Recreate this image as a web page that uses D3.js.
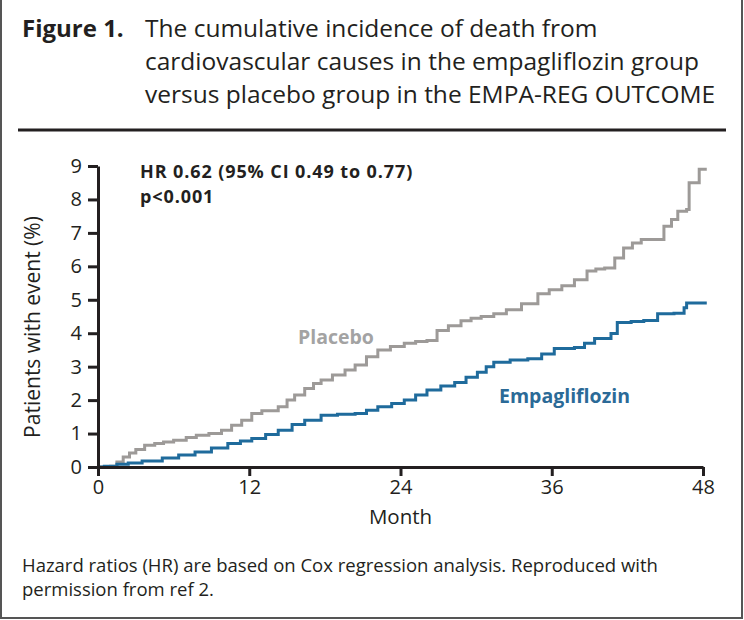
<!DOCTYPE html>
<html>
<head>
<meta charset="utf-8">
<script src="https://cdn.jsdelivr.net/npm/d3@7"></script>
<style>
  body { margin: 0; background: #fff; }
  svg text { font-family: "Open Sans", "DejaVu Sans", sans-serif; fill: #231f20; }
</style>
</head>
<body>
<div id="container"></div>
<script>
// cumulative incidence (%)
const placeboMonths = [0, 1, 1.5, 2, 2.5, 3, 3.7, 4.5, 5.2, 6, 7, 7.8, 8.8, 9.8, 10.6, 11.4, 12.2, 13, 14.3, 15, 15.6, 16.4, 17.1, 17.7, 18.6, 19.6, 20.4, 21.3, 22.2, 23.2, 24.3, 25.2, 26.1, 26.9, 27.8, 28.8, 29.6, 30.4, 31.4, 32.4, 33.6, 34.9, 35.8, 36.8, 37.8, 38.8, 39.5, 40.2, 41, 41.7, 42.4, 43.1, 44.1, 44.9, 45.5, 46, 46.7, 46.9, 47.6, 47.7, 48.3];
const placeboValues = [0, 0.02, 0.15, 0.3, 0.42, 0.52, 0.65, 0.7, 0.75, 0.8, 0.88, 0.95, 1.0, 1.1, 1.25, 1.4, 1.6, 1.68, 1.8, 2.0, 2.15, 2.35, 2.5, 2.6, 2.75, 2.9, 3.05, 3.3, 3.5, 3.6, 3.7, 3.75, 3.78, 4.08, 4.22, 4.37, 4.45, 4.5, 4.58, 4.7, 4.88, 5.18, 5.3, 5.42, 5.6, 5.86, 5.92, 5.95, 6.25, 6.55, 6.7, 6.8, 6.8, 7.2, 7.4, 7.65, 7.7, 8.5, 8.5, 8.9, 8.9];

const empaMonths = [0, 0.5, 1.5, 2.4, 3.5, 5.1, 6.4, 7.7, 9, 10.3, 11.3, 12.2, 13.3, 14.3, 15.4, 16.4, 17.7, 19, 20.4, 21.3, 22.2, 23.3, 24.3, 25.2, 26.1, 27.2, 28.3, 29.2, 30.1, 30.8, 31.4, 32.7, 34.1, 35.2, 36.2, 37.8, 38.6, 39.4, 40.7, 41.2, 42.3, 43.3, 44.4, 45.7, 46.5, 46.7, 48.3];
const empaValues = [0, 0.02, 0.08, 0.12, 0.18, 0.27, 0.36, 0.45, 0.57, 0.7, 0.78, 0.85, 0.97, 1.1, 1.27, 1.4, 1.55, 1.58, 1.6, 1.7, 1.8, 1.9, 2.0, 2.15, 2.3, 2.42, 2.53, 2.68, 2.83, 3.0, 3.13, 3.2, 3.24, 3.38, 3.54, 3.57, 3.7, 3.84, 3.99, 4.32, 4.35, 4.38, 4.58, 4.6, 4.76, 4.9, 4.9];

const xTicks = [0, 12, 24, 36, 48];
const yTicks = [0, 1, 2, 3, 4, 5, 6, 7, 8, 9];

const titleLines = ["The cumulative incidence of death from",
  "cardiovascular causes in the empagliflozin group",
  "versus placebo group in the EMPA-REG OUTCOME"];
const statLines = ["HR 0.62 (95% CI 0.49 to 0.77)", "p<0.001"];
const footLines = ["Hazard ratios (HR) are based on Cox regression analysis. Reproduced with",
  "permission from ref 2."];

const w = 744, h = 620;
const plotLeft = 98, plotRight = 703, plotTop = 166, plotBottom = 467;

const svg = d3.select("#container").append("svg")
  .attr("width", w)
  .attr("height", h);

// frame
svg.append("path")
  .attr("d", "M1,0 V618 H742 V0")
  .attr("fill", "none")
  .attr("stroke", "#555")
  .attr("stroke-width", 2);

// title
svg.append("text")
  .attr("x", 22).attr("y", 37)
  .attr("font-size", 24).attr("font-weight", "bold")
  .text("Figure 1.");
svg.selectAll("text.title")
  .data(titleLines)
  .enter()
  .append("text")
  .attr("class", "title")
  .attr("x", 145)
  .attr("y", (d, i) => 37 + i * 33)
  .attr("font-size", 24.5)
  .text(d => d);

svg.append("line")
  .attr("x1", 18).attr("x2", 726)
  .attr("y1", 130).attr("y2", 130)
  .attr("stroke", "#231f20")
  .attr("stroke-width", 3);

const xScale = d3.scaleLinear().domain([0, 48]).range([plotLeft, plotRight]);
const yScale = d3.scaleLinear().domain([0, 9]).range([plotBottom, plotTop]);

const line = d3.line()
  .x(d => xScale(d[0]))
  .y(d => yScale(d[1]))
  .curve(d3.curveStepAfter);

const placebo = placeboMonths.map((m, i) => [m, placeboValues[i]]);
const empa = empaMonths.map((m, i) => [m, empaValues[i]]);

svg.append("path")
  .datum(placebo)
  .attr("fill", "none")
  .attr("stroke", "#9d9a98")
  .attr("stroke-width", 3)
  .attr("d", line);

svg.append("path")
  .datum(empa)
  .attr("fill", "none")
  .attr("stroke", "#1f6b9c")
  .attr("stroke-width", 3)
  .attr("d", line);

const xAxis = d3.axisBottom(xScale).tickValues(xTicks).tickSize(9).tickSizeOuter(0).tickPadding(4);
const yAxis = d3.axisLeft(yScale).tickValues(yTicks).tickSize(10).tickSizeOuter(0).tickPadding(6);

const gx = svg.append("g")
  .attr("transform", "translate(0," + plotBottom + ")")
  .call(xAxis);
const gy = svg.append("g")
  .attr("transform", "translate(" + plotLeft + ",0)")
  .call(yAxis);

[gx, gy].forEach(g => {
  g.select(".domain").attr("stroke", "#231f20").attr("stroke-width", 3);
  g.selectAll(".tick line").attr("stroke", "#231f20").attr("stroke-width", 3);
  g.selectAll(".tick text")
    .attr("font-family", "Open Sans, DejaVu Sans, sans-serif")
    .attr("font-size", 20)
    .attr("fill", "#231f20");
});

svg.append("text")
  .attr("x", (plotLeft + plotRight) / 2).attr("y", 524)
  .attr("text-anchor", "middle")
  .attr("font-size", 20.5)
  .text("Month");

svg.append("text")
  .attr("transform", "translate(40," + 327 + ") rotate(-90)")
  .attr("text-anchor", "middle")
  .attr("font-size", 21)
  .text("Patients with event (%)");

svg.selectAll("text.stat")
  .data(statLines)
  .enter()
  .append("text")
  .attr("class", "stat")
  .attr("x", 140)
  .attr("y", (d, i) => 178 + i * 25)
  .attr("font-size", 18).attr("font-weight", "bold")
  .attr("letter-spacing", 0.9)
  .text(d => d);

svg.append("text")
  .attr("x", 298).attr("y", 344)
  .attr("font-size", 19.5).attr("font-weight", "bold")
  .style("fill", "#a3a3a3")
  .text("Placebo");
svg.append("text")
  .attr("x", 499).attr("y", 403)
  .attr("font-size", 19.5).attr("font-weight", "bold")
  .style("fill", "#2b6a97")
  .text("Empagliflozin");

svg.selectAll("text.foot")
  .data(footLines)
  .enter()
  .append("text")
  .attr("class", "foot")
  .attr("x", 22)
  .attr("y", (d, i) => 572 + i * 24)
  .attr("font-size", 18.5)
  .text(d => d);
</script>
</body>
</html>
